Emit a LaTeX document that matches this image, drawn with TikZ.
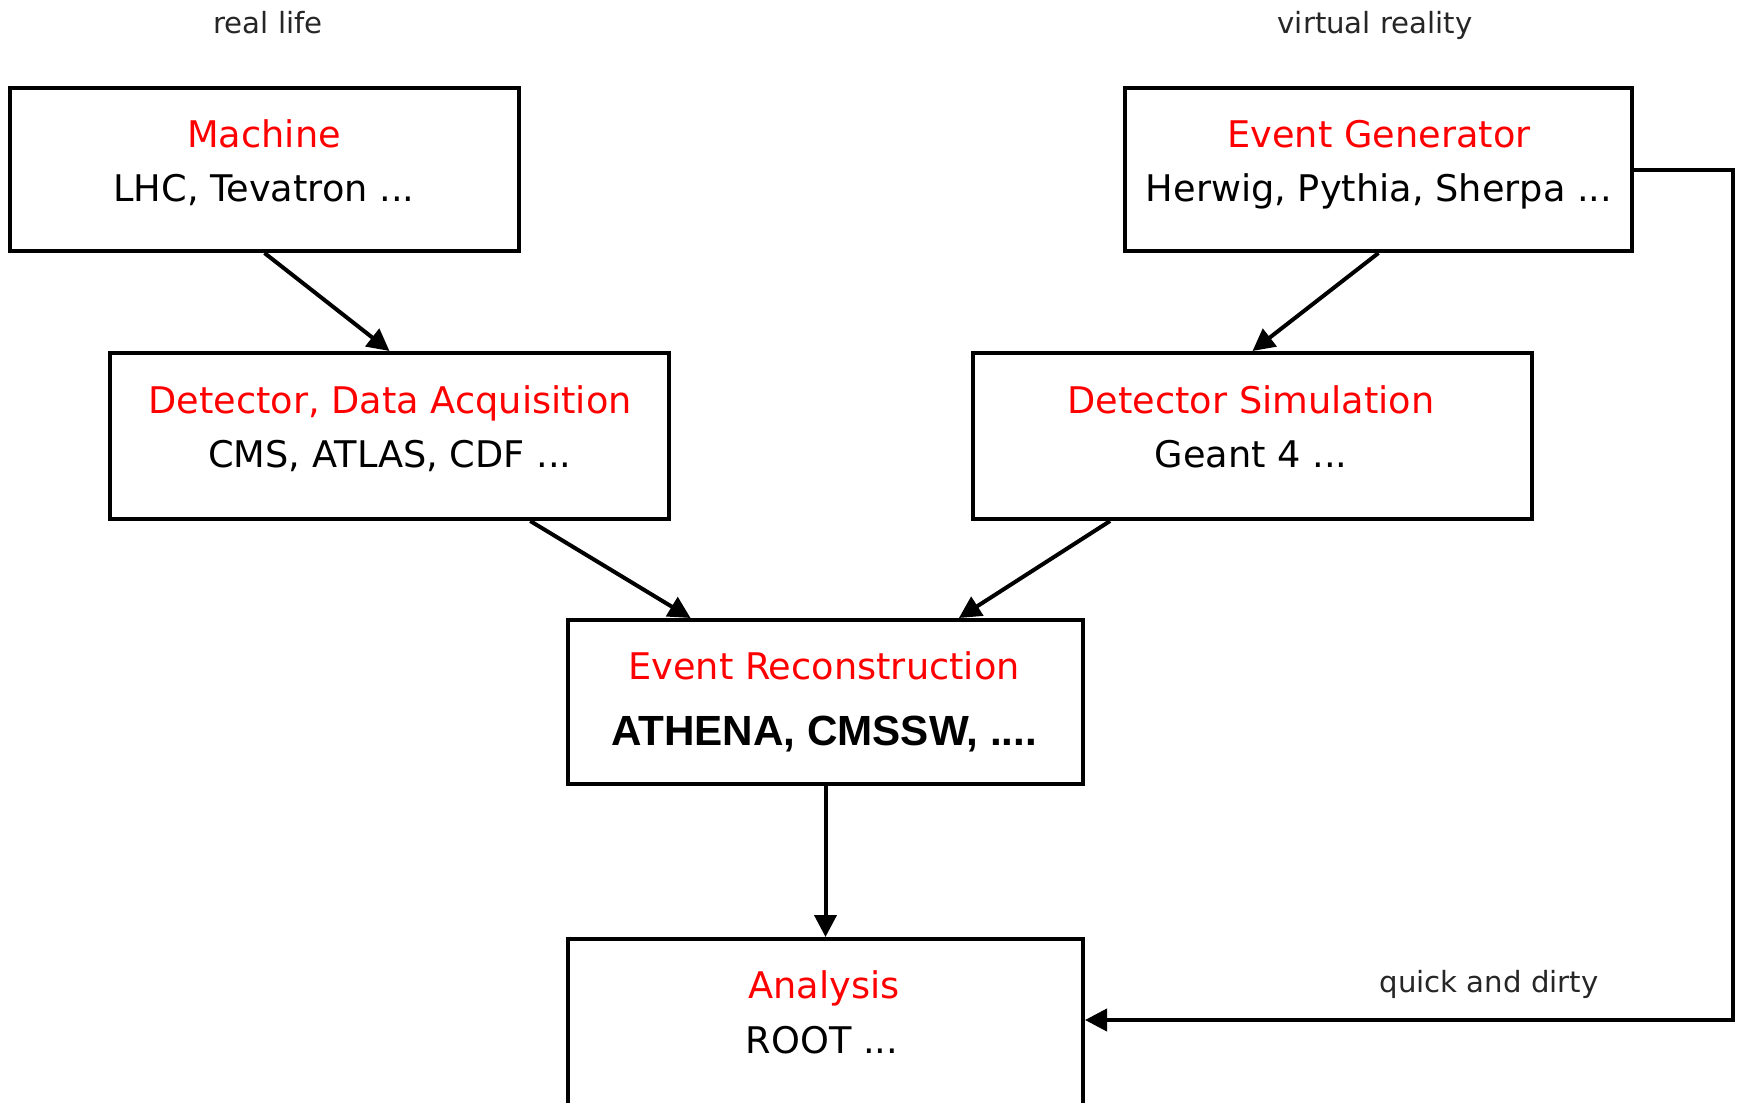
\documentclass[tikz,border=0pt]{standalone}
\usepackage{fontspec}
\setmainfont{DejaVu Sans}
\newfontfamily\boldarial{Liberation Sans}[BoldFont={Liberation Sans Bold}]
\usetikzlibrary{arrows.meta,calc}
\definecolor{titlered}{RGB}{255,0,0}
\begin{document}
\begin{tikzpicture}[x=0.5pt,y=-0.5pt,
  box/.style={draw,line width=2pt,inner sep=0pt,rectangle},
  ttl/.style={anchor=base,inner sep=0pt,text=titlered,font=\fontsize{18.35}{22}\selectfont},
  sub/.style={anchor=base,inner sep=0pt,text=black,font=\fontsize{18.35}{22}\selectfont},
  small/.style={anchor=base,inner sep=0pt,text=black!85,font=\fontsize{14.6}{17}\selectfont},
  conn/.style={line width=2pt,-{Triangle[length=11pt,width=11pt]}},
  plain/.style={line width=2pt}]
\useasboundingbox (0,0) rectangle (1742,1103);
% top labels
\node[small] (rl) at (268,33) {real life};
\node[small] (vr) at (1375,33) {virtual reality};
% boxes
\node[box,minimum width=254.5pt,minimum height=81.5pt] (machine) at (264.5,169.5) {};
\node[box,minimum width=253.5pt,minimum height=81.5pt] (evgen) at (1378.5,169.5) {};
\node[box,minimum width=279.5pt,minimum height=83pt] (daq) at (389.5,436) {};
\node[box,minimum width=279.5pt,minimum height=83pt] (detsim) at (1252.5,436) {};
\node[box,minimum width=257.5pt,minimum height=82pt] (reco) at (825.5,702) {};
\node[box,minimum width=257.5pt,minimum height=86pt] (ana) at (825.5,1025) {};
% texts
\node[ttl] (machineT) at (264,147) {Machine};
\node[sub] (machineS) at (264,201) {LHC, Tevatron ...};
\node[ttl] (evgenT) at (1379,147) {Event Generator};
\node[sub] (evgenS) at (1379,201) {Herwig, Pythia, Sherpa ...};
\node[ttl] (daqT) at (390,413) {Detector, Data Acquisition};
\node[sub] (daqS) at (390,467) {CMS, ATLAS, CDF ...};
\node[ttl] (detsimT) at (1251,413) {Detector Simulation};
\node[sub] (detsimS) at (1251,467) {Geant 4 ...};
\node[ttl] (recoT) at (824,679) {Event Reconstruction};
\node[sub,font=\boldarial\bfseries\fontsize{21.1}{25}\selectfont] (recoS) at (824,745) {ATHENA, CMSSW, ....};
\node[ttl] (anaT) at (824,998) {Analysis};
\node[sub] (anaS) at (822,1053) {ROOT ...};
\node[small] (qdT) at (1489,992) {quick and dirty};
% connectors
\draw[conn] (machine.south) -- (daq.north);
\draw[conn] (evgen.south) -- (detsim.north);
\draw[conn] ($(daq.south west)!0.75!(daq.south east)$) -- ($(reco.north west)!0.24!(reco.north east)$);
\draw[conn] ($(detsim.south west)!0.247!(detsim.south east)$) -- ($(reco.north west)!0.757!(reco.north east)$);
\draw[conn] (reco.south) -- (ana.north);
\coordinate (qd) at (1733,1020);
\draw[conn] (evgen.east) -| (qd) -- (qd -| ana.east);
\end{tikzpicture}
\end{document}
